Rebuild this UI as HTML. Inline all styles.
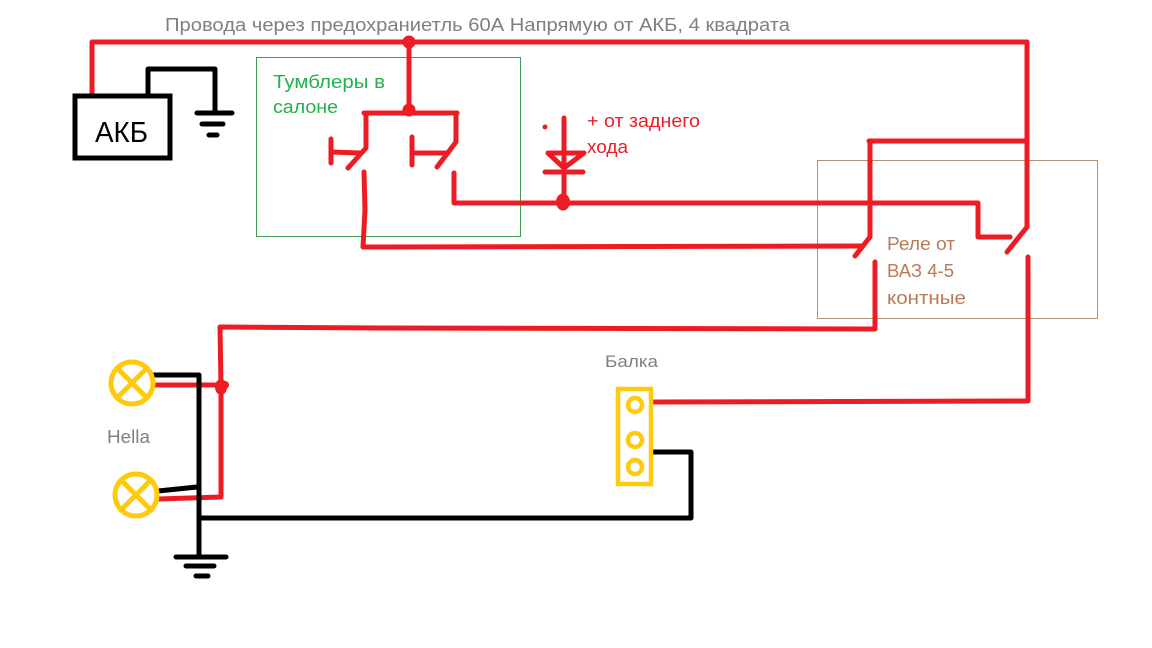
<!DOCTYPE html>
<html><head><meta charset="utf-8"><style>
html,body{margin:0;padding:0;background:#fff;}
svg{display:block;}
text{font-family:"Liberation Sans","DejaVu Sans",sans-serif;}
</style></head><body>
<svg width="1152" height="648" viewBox="0 0 1152 648" xmlns="http://www.w3.org/2000/svg">
<rect width="1152" height="648" fill="#fff"/>
<!-- boxes -->
<rect x="256.5" y="57.5" width="264" height="179" fill="none" stroke="#3f9c50" stroke-width="1"/>
<rect x="817.5" y="160.5" width="280" height="158" fill="none" stroke="#b38f74" stroke-width="1"/>

<!-- texts -->
<text x="165" y="31" font-size="18" fill="#7f7f7f" textLength="625" lengthAdjust="spacingAndGlyphs">Провода через предохраниетль 60А Напрямую от АКБ, 4 квадрата</text>
<text x="273" y="88" font-size="18" fill="#22b14c" textLength="112" lengthAdjust="spacingAndGlyphs">Тумблеры в</text>
<text x="273" y="113" font-size="18" fill="#22b14c" textLength="65" lengthAdjust="spacingAndGlyphs">салоне</text>
<text x="587" y="127" font-size="18" fill="#ed1c24" textLength="113" lengthAdjust="spacingAndGlyphs">+ от заднего</text>
<text x="587" y="153" font-size="18" fill="#ed1c24" textLength="41" lengthAdjust="spacingAndGlyphs">хода</text>
<text x="887" y="250" font-size="18" fill="#b97a57" textLength="68" lengthAdjust="spacingAndGlyphs">Реле от</text>
<text x="887" y="277" font-size="18" fill="#b97a57" textLength="67" lengthAdjust="spacingAndGlyphs">ВАЗ 4-5</text>
<text x="887" y="304" font-size="18" fill="#b97a57" textLength="79" lengthAdjust="spacingAndGlyphs">контные</text>
<text x="107" y="443" font-size="18" fill="#7f7f7f" textLength="43" lengthAdjust="spacingAndGlyphs">Hella</text>
<text x="605" y="367" font-size="17" fill="#7f7f7f" textLength="53" lengthAdjust="spacingAndGlyphs">Балка</text>
<text x="95" y="142" font-size="29" fill="#000" textLength="53" lengthAdjust="spacingAndGlyphs">АКБ</text>

<!-- red wires -->
<g fill="none" stroke="#ed1c24" stroke-width="5" stroke-linecap="round" stroke-linejoin="round">
  <path d="M92,95 L92,42 L1027,42 L1027,227"/>
  <path d="M409,42 L409,112"/>
  <path d="M364,113 L457,113"/>
  <path d="M366,113 L366,148 L348,168"/>
  <path d="M331,139 L331,163 M331,152 L360,153"/>
  <path d="M364,172 L365,210 L363,247 L863,246"/>
  <path d="M456,113 L456,142 L437,167"/>
  <path d="M412,137 L412,165 M412,153 L448,153"/>
  <path d="M454,173 L454,203 L978,203 L978,237 L1010,237"/>
  <path d="M564,118 L564,202"/>
  <path d="M548,153 L584,153 M548,153 L564,168 L584,153"/>
  <path d="M545,172 L583,172"/>
  <path d="M869,141 L1027,141"/>
  <path d="M870,141 L870,237 L855,256"/>
  <path d="M1027,227 L1007,252"/>
  <path d="M875,262 L875,329 L382,328 L220,327 L221,385 L221,497 L158,499"/>
  <path d="M154,385 L221,385"/>
  <path d="M1028,257 L1028,401 L653,402"/>
</g>
<g fill="#ed1c24">
  <circle cx="409" cy="42" r="6.5"/>
  <circle cx="409" cy="110" r="6.5"/>
  <circle cx="545" cy="127" r="2.5"/>
  <ellipse cx="563" cy="202" rx="7" ry="8.5"/>
  <ellipse cx="221" cy="387" rx="6" ry="8"/>
  <circle cx="225" cy="385" r="4"/>
</g>

<!-- black wires -->
<g fill="none" stroke="#000" stroke-width="5" stroke-linecap="round" stroke-linejoin="round">
  <rect x="75" y="96" width="95" height="62" stroke-linecap="butt" stroke-linejoin="miter"/>
  <path d="M148,96 L148,69 L215,69 L215,113"/>
  <path d="M197,113 L232,113 M202,124 L223,124 M209,135 L217,135"/>
  <path d="M154,375 L199,375 L199,557"/>
  <path d="M158,491 L197,487"/>
  <path d="M199,518 L691,518 L691,452 L653,452"/>
  <path d="M176,557 L226,557 M186,566 L214,566 M196,576 L208,576"/>
</g>

<!-- yellow -->
<g fill="none" stroke="#ffc90e" stroke-width="5" stroke-linecap="round">
  <circle cx="132" cy="383" r="21"/>
  <path d="M117,368 L147,398 M147,368 L117,398"/>
  <circle cx="136" cy="495" r="21"/>
  <path d="M121,480 L151,510 M151,480 L121,510"/>
</g>
<g fill="none" stroke="#ffc90e" stroke-width="4.5">
  <rect x="618" y="389" width="33" height="95"/>
  <circle cx="635" cy="405" r="7"/>
  <circle cx="635" cy="440" r="7"/>
  <circle cx="635" cy="467" r="7"/>
</g>
</svg>
</body></html>
